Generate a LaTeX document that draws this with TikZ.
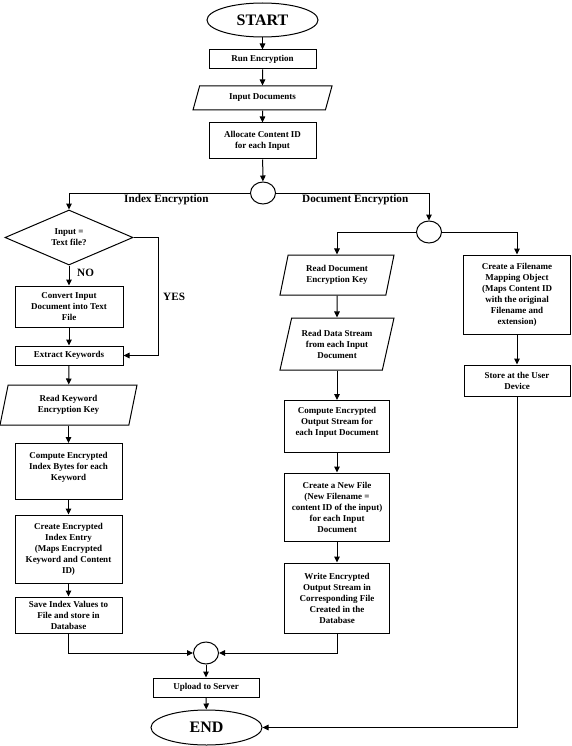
\documentclass[tikz,border=0pt]{standalone}
\usepackage{fontspec}
\setmainfont{Liberation Serif}
\usetikzlibrary{shapes.geometric,arrows.meta}
\begin{document}
\begin{tikzpicture}[x=1pt,y=-1pt,
  base/.style={draw, line width=1pt, align=center, inner sep=1pt,
    font=\fontsize{9}{11}\selectfont\bfseries},
  pbox/.style={base, rectangle},
  term/.style={draw, line width=1pt, ellipse, inner sep=0pt,
    font=\fontsize{16}{18}\selectfont\bfseries},
  iobox/.style={base, trapezium, trapezium left angle=#1, trapezium right angle=180-#1,
    trapezium stretches body},
  dec/.style={base, diamond, inner sep=0pt},
  junc/.style={draw, line width=1pt, ellipse, inner sep=0pt, minimum width=25pt, minimum height=22pt},
  lbl/.style={font=\fontsize{11.2}{13}\selectfont\bfseries, inner sep=0pt},
  con/.style={line width=1pt, -{Triangle[length=6pt,width=5.5pt]}}]
\useasboundingbox (0,0) rectangle (572,746);

% main column
\node[term, minimum width=111pt, minimum height=34pt] (start) at (262.5,20) {START};
\node[pbox, minimum width=107pt, minimum height=19pt] (run) at (262.5,59.5) {Run Encryption};
\node[iobox=56, minimum width=139pt, minimum height=24pt] (input) at (262.5,98) {Input Documents};
\node[pbox, minimum width=107pt, minimum height=36pt] (alloc) at (262.5,141) {Allocate Content ID\\for each Input};
\node[junc] (c1) at (263,193) {};

% left column
\node[dec, minimum width=128pt, minimum height=55pt] (dia) at (69,237.5) {Input =\\Text file?};
\node[pbox, minimum width=108pt, minimum height=41pt] (conv) at (69,306.5) {Convert Input\\Document into Text\\File};
\node[pbox, minimum width=108pt, minimum height=19pt] (extr) at (69,355.5) {Extract Keywords};
\node[iobox=69, minimum width=137pt, minimum height=40pt] (rkey) at (68.5,405) {Read Keyword\\Encryption Key};
\node[pbox, minimum width=107pt, minimum height=56pt, anchor=north] (cidx) at (68.5,443) {Compute Encrypted\\Index Bytes for each\\Keyword\\[0pt]};
\node[pbox, minimum width=107pt, minimum height=68pt] (centry) at (68.5,549) {Create Encrypted\\Index Entry\\(Maps Encrypted\\Keyword and Content\\ID)};
\node[pbox, minimum width=107pt, minimum height=36pt] (save) at (68.5,615) {Save Index Values to\\File and store in\\Database};

% middle column
\node[junc] (c2) at (429,232) {};
\node[iobox=69, minimum width=114pt, minimum height=40pt] (rdkey) at (337,275) {Read Document\\Encryption Key};
\node[iobox=69, minimum width=114pt, minimum height=52pt] (rdata) at (337,344) {Read Data Stream\\from each Input\\Document};
\node[pbox, minimum width=105pt, minimum height=52pt, anchor=north] (cout) at (337,400) {Compute Encrypted\\Output Stream for\\each Input Document\\[0pt]};
\node[pbox, minimum width=105pt, minimum height=68pt] (newf) at (337,507) {Create a New File\\(New Filename =\\content ID of the input)\\for each Input\\Document};
\node[pbox, minimum width=105pt, minimum height=70pt] (write) at (337,598) {Write Encrypted\\Output Stream in\\Corresponding File\\Created in the\\Database};

% right column
\node[pbox, minimum width=107pt, minimum height=79pt] (fmap) at (517,294.5) {Create a Filename\\Mapping Object\\(Maps Content ID\\with the original\\Filename and\\extension)};
\node[pbox, minimum width=106pt, minimum height=31pt] (store) at (517,380.5) {Store at the User\\Device};

% bottom
\node[junc] (c3) at (206,653) {};
\node[pbox, minimum width=106pt, minimum height=19pt] (upl) at (206,687.5) {Upload to Server};
\node[term, minimum width=111pt, minimum height=35pt] (end) at (206.5,727.5) {END};

% labels
\node[lbl, anchor=west] (lidx) at (124,200) {Index Encryption};
\node[lbl, anchor=west] (ldoc) at (302,200) {Document Encryption};
\node[lbl, anchor=west] (lno) at (77,273) {NO};
\node[lbl, anchor=west] (lyes) at (163,297) {YES};
\coordinate (yesc) at (158,237.5);

% connectors
\draw[con] (start) -- (run);
\draw[con] (run) -- (input);
\draw[con] (input) -- (alloc);
\draw[con] (alloc) -- (c1);
\draw[con] (c1.west) -| (dia.north);
\draw[con] (c1.east) -| (c2.north);
\draw[con] (dia) -- (conv);
\draw[con] (conv) -- (extr);
\draw[con] (dia.east) -- (yesc) |- (extr.east);
\draw[con] (extr) -- (rkey);
\draw[con] (rkey) -- (cidx);
\draw[con] (cidx) -- (centry);
\draw[con] (centry) -- (save);
\draw[con] (save.south) |- (c3.west);
\draw[con] (c2.west) -| (rdkey.north);
\draw[con] (c2.east) -| (fmap.north);
\draw[con] (rdkey) -- (rdata);
\draw[con] (rdata) -- (cout);
\draw[con] (cout) -- (newf);
\draw[con] (newf) -- (write);
\draw[con] (write.south) |- (c3.east);
\draw[con] (fmap) -- (store);
\draw[con] (store.south) |- (end.east);
\draw[con] (c3) -- (upl);
\draw[con] (upl) -- (end);
\end{tikzpicture}
\end{document}
